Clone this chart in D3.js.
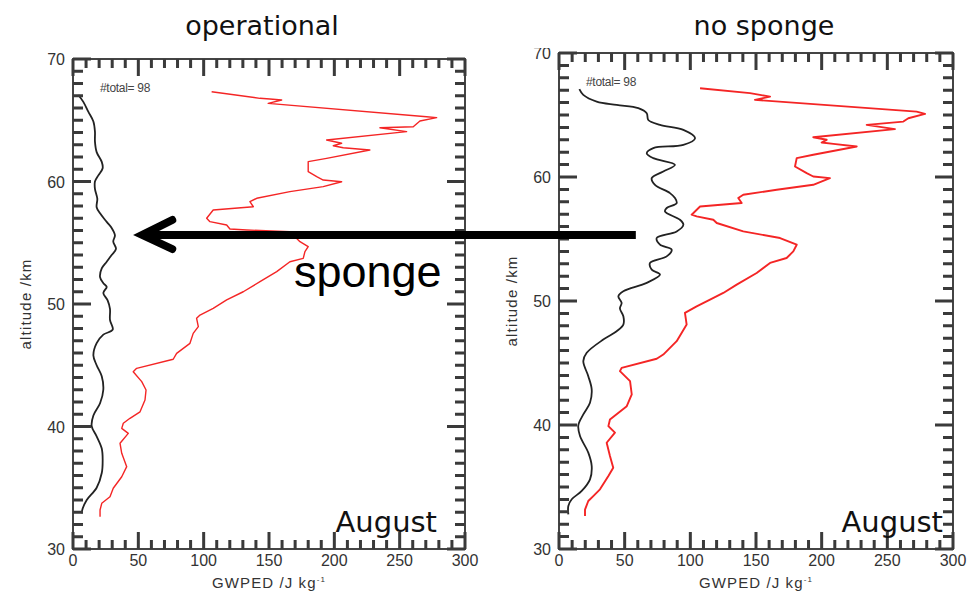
<!DOCTYPE html>
<html>
<head>
<meta charset="utf-8">
<script src="https://cdn.jsdelivr.net/npm/d3@7"></script>
<style>
  html, body { margin: 0; padding: 0; background: #fff; }
  svg { display: block; }
</style>
</head>
<body>
<svg id="chart" width="969" height="592"></svg>
<script>
// GWPED profiles, August: [altitude km, energy J/kg]
const operationalTotal = [
  [67.06, 4.1], [66.5, 7.9], [65.7, 11.7], [64.9, 15.6], [64.07, 16.8], [63.25, 16.8],
  [62.4, 18.1], [61.6, 22.0], [61.08, 22.7], [60.5, 19.4], [60.0, 16.8], [59.4, 16.8],
  [58.6, 18.6], [57.9, 18.1], [57.4, 20.7], [56.7, 25.8], [56.2, 29.6], [55.6, 32.1],
  [55.1, 30.8], [54.5, 32.9], [54.0, 29.6], [53.45, 25.8], [52.9, 22.0], [52.2, 20.7],
  [51.7, 23.2], [51.4, 25.8], [50.9, 23.2], [50.3, 26.5], [49.6, 28.3], [48.7, 28.3],
  [47.9, 30.4], [47.5, 23.2], [46.8, 18.1], [45.8, 15.6], [45.0, 18.1], [44.1, 22.0],
  [43.0, 23.2], [41.9, 20.7], [40.9, 15.6], [40.04, 14.3], [39.2, 18.1], [38.2, 22.0],
  [37.3, 22.7], [36.2, 22.0], [35.0, 18.1], [34.0, 10.5], [33.3, 7.4], [32.9, 6.6]
];
const operationalPeak = [
  [67.33, 106.1], [66.79, 143.1], [66.73, 150.7], [66.65, 159.7], [66.38, 149.4],
  [65.29, 270.6], [65.21, 278.3], [64.94, 265.5], [64.47, 260.4], [64.39, 234.9],
  [64.07, 255.3], [63.39, 194.1], [63.12, 205.6], [62.92, 199.2], [62.76, 206.8],
  [62.57, 227.2], [61.89, 194.1], [61.62, 180.0], [60.8, 180.0], [60.39, 186.5],
  [60.12, 191.5], [59.98, 205.6], [59.58, 191.5], [59.17, 166.0], [58.63, 140.6],
  [58.35, 135.4], [57.94, 138.0], [57.67, 107.3], [57.0, 102.3], [56.72, 104.8],
  [56.45, 117.6], [56.12, 120.1], [56.04, 132.9], [55.9, 166.0], [55.09, 173.7],
  [54.68, 180.0], [54.27, 177.5], [53.73, 176.2], [53.45, 166.0], [52.64, 155.9],
  [51.82, 143.1], [51.0, 130.3], [50.33, 117.6], [49.65, 107.3], [49.1, 97.2],
  [48.83, 94.6], [48.15, 95.9], [47.6, 92.0], [46.79, 89.5], [45.97, 79.3],
  [45.49, 76.7], [44.75, 48.7], [44.47, 46.1], [43.66, 52.6], [42.98, 55.9],
  [42.16, 55.1], [41.2, 51.3], [40.67, 43.6], [40.26, 38.5], [39.85, 37.3],
  [39.44, 42.3], [38.63, 36.0], [37.81, 37.3], [36.72, 41.1], [35.9, 37.3],
  [34.96, 30.8], [34.27, 28.3], [33.73, 22.0], [33.18, 20.7], [32.64, 20.7]
];
const noSpongeTotal = [
  [67.08, 15.5], [66.62, 18.5], [66.08, 28.7], [65.81, 43.9], [65.55, 60.4], [65.14, 66.8],
  [64.6, 68.0], [64.2, 76.9], [63.8, 94.7], [63.13, 103.6], [62.59, 94.7], [62.33, 71.8],
  [61.92, 66.8], [61.52, 71.8], [60.98, 88.3], [60.44, 79.4], [59.91, 70.6], [59.37, 73.1],
  [58.7, 84.5], [58.3, 88.3], [57.9, 89.6], [57.5, 82.0], [57.22, 80.7], [56.55, 92.1],
  [56.15, 94.7], [55.61, 89.6], [55.08, 74.4], [54.54, 76.9], [54.14, 85.8], [53.6, 82.0],
  [53.07, 69.3], [52.53, 70.6], [52.13, 76.9], [51.46, 66.8], [50.78, 49.0], [50.38, 45.2],
  [49.85, 47.7], [49.4, 46.4], [48.77, 49.0], [48.1, 49.0], [47.56, 43.9], [46.89, 33.7],
  [45.82, 21.1], [45.15, 18.5], [43.94, 22.3], [42.87, 24.9], [41.8, 23.6], [40.85, 18.5],
  [39.97, 14.7], [39.11, 16.0], [37.77, 22.3], [36.69, 24.9], [35.62, 23.6], [34.68, 17.3],
  [34.01, 9.7], [33.47, 7.1], [32.8, 7.1]
];
const noSpongePeak = [
  [67.16, 107.4], [66.76, 145.4], [66.62, 153.0], [66.48, 160.7], [66.22, 149.2],
  [65.27, 272.3], [65.09, 278.7], [64.74, 266.0], [64.47, 262.2], [64.2, 234.3],
  [63.86, 255.8], [63.21, 193.6], [63.0, 203.8], [62.78, 200.0], [62.67, 208.9],
  [62.46, 226.7], [61.79, 193.6], [61.52, 181.0], [60.85, 179.7], [60.31, 188.6],
  [60.04, 193.6], [59.91, 206.3], [59.37, 193.6], [58.97, 165.8], [58.57, 140.3],
  [58.3, 136.5], [57.9, 139.1], [57.62, 107.4], [56.96, 101.0], [56.82, 104.8],
  [56.55, 117.5], [56.29, 120.1], [55.61, 140.3], [55.08, 168.3], [54.54, 181.0],
  [54.0, 178.4], [53.47, 173.3], [53.07, 160.7], [52.26, 150.5], [51.32, 135.3],
  [50.65, 125.1], [50.11, 115.0], [49.57, 104.8], [49.04, 95.9], [48.1, 97.2],
  [46.76, 89.6], [45.68, 79.4], [45.34, 74.4], [44.61, 47.7], [44.34, 46.4],
  [43.54, 54.1], [42.46, 55.4], [41.52, 51.6], [40.45, 38.8], [39.91, 37.6],
  [39.38, 42.6], [38.57, 36.3], [37.5, 38.8], [36.56, 41.3], [35.89, 37.6],
  [34.81, 31.2], [34.27, 26.1], [33.87, 22.3], [33.18, 19.8], [32.67, 19.8]
];

// Axis ticks
const xMajorTicks = [0, 50, 100, 150, 200, 250, 300];
const xMinorTicks = [10, 20, 30, 40, 60, 70, 80, 90, 110, 120, 130, 140, 160, 170, 180, 190,
                     210, 220, 230, 240, 260, 270, 280, 290];
const yMajorTicks = [30, 40, 50, 60, 70];
const yMinorTicks = [31, 32, 33, 34, 35, 36, 37, 38, 39, 41, 42, 43, 44, 45, 46, 47, 48, 49,
                     51, 52, 53, 54, 55, 56, 57, 58, 59, 61, 62, 63, 64, 65, 66, 67, 68, 69];

const panelTitles = ["operational", "no sponge"];
const monthLabel = "August";
const countLabel = "#total= 98";

const svg = d3.select("#chart");

const panels = [
  { title: panelTitles[0], total: operationalTotal, peak: operationalPeak,
    x: d3.scaleLinear().domain([0, 300]).range([73, 465]),
    y: d3.scaleLinear().domain([30, 70]).range([549, 59]),
    titleX: 262, ytitleX: 31, peakWidth: 1.4, monthShift: 0 },
  { title: panelTitles[1], total: noSpongeTotal, peak: noSpongePeak,
    x: d3.scaleLinear().domain([0, 300]).range([559, 953]),
    y: d3.scaleLinear().domain([30, 70]).range([549, 53]),
    titleX: 764, ytitleX: 517, peakWidth: 1.9, monthShift: 18 }
];

const axisColor = "#444";
const tickColor = "#3a3a3a";
const tickFont = "'Liberation Sans', Arial, sans-serif";

panels.forEach((p, i) => {
  const g = svg.append("g");
  const x0 = p.x(0), x1 = p.x(300);
  const y0 = p.y(30), y1 = p.y(70);

  // profiles
  const lineTotal = d3.line().x(d => p.x(d[1])).y(d => p.y(d[0])).curve(d3.curveCatmullRom.alpha(0.5));
  const linePeak = d3.line().x(d => p.x(d[1])).y(d => p.y(d[0]));
  g.append("path").attr("d", lineTotal(p.total))
    .attr("fill", "none").attr("stroke", "#222").attr("stroke-width", 1.8);
  g.append("path").attr("d", linePeak(p.peak))
    .attr("fill", "none").attr("stroke", "#f42525").attr("stroke-width", p.peakWidth)
    .attr("stroke-linejoin", "round");

  // tick labels
  xMajorTicks.forEach(v => {
    g.append("text").attr("x", p.x(v)).attr("y", 566).attr("text-anchor", "middle")
      .attr("fill", "#333").style("font-family", tickFont).style("font-size", "16px").text(v);
  });
  yMajorTicks.forEach(v => {
    g.append("text").attr("x", x0 - 8).attr("y", p.y(v) + 6).attr("text-anchor", "end")
      .attr("fill", "#333").style("font-family", tickFont).style("font-size", "16px").text(v);
  });

  // frame
  g.append("rect").attr("x", x0).attr("y", y1).attr("width", x1 - x0).attr("height", y0 - y1)
    .attr("fill", "none").attr("stroke", axisColor).attr("stroke-width", 2);

  // inward-pointing ticks on all four sides, drawn above the frame
  let d = "";
  xMajorTicks.forEach(v => { const px = p.x(v); d += `M${px},${y0}V${y0 - 17}M${px},${y1}V${y1 + 17}`; });
  xMinorTicks.forEach(v => { const px = p.x(v); d += `M${px},${y0}V${y0 - 9}M${px},${y1}V${y1 + 9}`; });
  yMajorTicks.forEach(v => { const py = p.y(v); d += `M${x0},${py}H${x0 + 18}M${x1},${py}H${x1 - 18}`; });
  yMinorTicks.forEach(v => { const py = p.y(v); d += `M${x0},${py}H${x0 + 10}M${x1},${py}H${x1 - 10}`; });
  g.append("path").attr("d", d).attr("fill", "none").attr("stroke", tickColor).attr("stroke-width", 3);

  // axis titles
  const xt = g.append("text").attr("x", (x0 + x1) / 2).attr("y", 588)
    .attr("text-anchor", "middle").attr("fill", "#333")
    .style("font-family", tickFont).style("font-size", "15px").style("letter-spacing", "1.1px");
  xt.append("tspan").text("GWPED /J kg");
  xt.append("tspan").attr("dy", -6).style("font-size", "8px").text("-1");

  g.append("text").attr("transform", `translate(${p.ytitleX},${(y0 + y1) / 2}) rotate(-90)`)
    .attr("text-anchor", "middle").attr("fill", "#333")
    .style("font-family", tickFont).style("font-size", "15px").style("letter-spacing", "1.2px")
    .text("altitude /km");

  g.append("text").attr("x", x0 + 27).attr("y", y1 + 33)
    .attr("fill", "#444").style("font-family", tickFont).style("font-size", "12px")
    .style("letter-spacing", "-0.3px")
    .text(countLabel);

  g.append("text").attr("x", x1 - 28 + p.monthShift).attr("y", 532)
    .attr("text-anchor", "end").attr("fill", "#111")
    .style("font-family", "'DejaVu Sans', sans-serif").style("font-size", "29px")
    .text(monthLabel);
});

// panel titles
svg.append("rect").attr("x", 520).attr("y", 0).attr("width", 449).attr("height", 48).attr("fill", "#fff");
panels.forEach(p => {
  svg.append("text").attr("x", p.titleX).attr("y", 35).attr("text-anchor", "middle")
    .attr("fill", "#111").style("font-family", "'DejaVu Sans', sans-serif").style("font-size", "27px")
    .text(p.title);
});

// sponge annotation arrow
const arrowY = 235;
const arrowFrom = panels[1].x(58.5), arrowTo = panels[0].x(53);
svg.append("line").attr("x1", arrowFrom).attr("x2", arrowTo + 3).attr("y1", arrowY).attr("y2", arrowY)
  .attr("stroke", "#000").attr("stroke-width", 8);
svg.append("polyline")
  .attr("points", `${arrowTo + 30},${arrowY - 15} ${arrowTo},${arrowY} ${arrowTo + 30},${arrowY + 14}`)
  .attr("fill", "none").attr("stroke", "#000").attr("stroke-width", 8)
  .attr("stroke-linecap", "round").attr("stroke-linejoin", "miter");
svg.append("text").attr("x", 294).attr("y", 287).attr("fill", "#000")
  .style("font-family", "'Liberation Sans', Arial, sans-serif").style("font-size", "45px")
  .text("sponge");
</script>
</body>
</html>
